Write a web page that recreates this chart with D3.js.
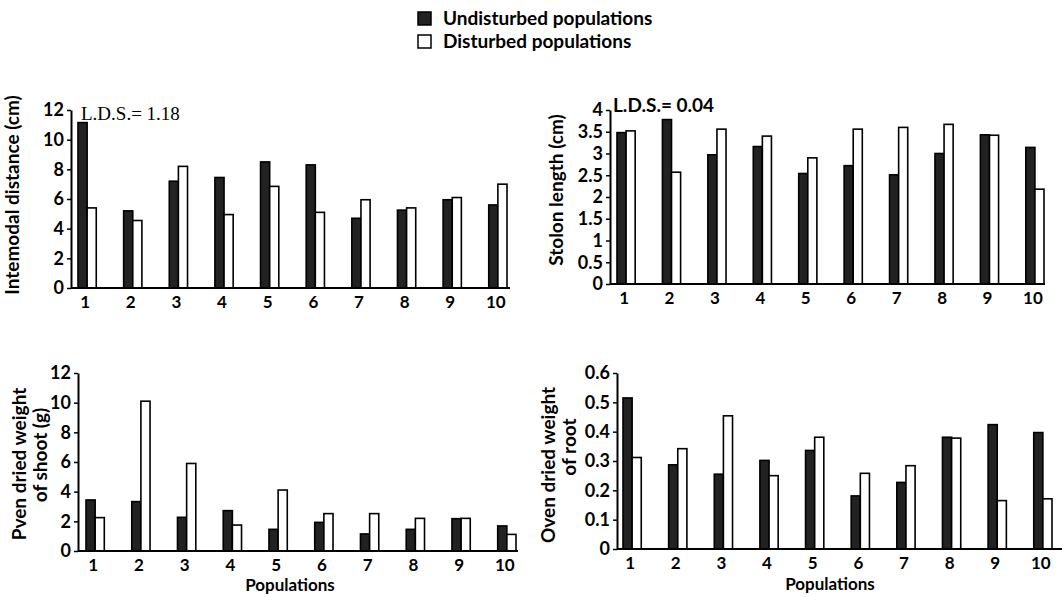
<!DOCTYPE html>
<html>
<head>
<meta charset="utf-8">
<script src="https://cdn.jsdelivr.net/npm/d3@7"></script>
<style>
  body { margin: 0; background: #fff; }
  svg text { font-family: Lato, "DejaVu Sans", sans-serif; font-weight: 700; fill: #000; }
</style>
</head>
<body>
<svg id="chart" width="1062" height="597"></svg>
<script>
// //////// DATA

const populations = ["1", "2", "3", "4", "5", "6", "7", "8", "9", "10"];
const seriesNames = ["Undisturbed populations", "Disturbed populations"];

const internodalUndisturbed = [11.15, 5.2, 7.2, 7.45, 8.5, 8.3, 4.7, 5.25, 5.95, 5.6];
const internodalDisturbed = [5.4, 4.55, 8.2, 4.95, 6.85, 5.1, 5.95, 5.4, 6.1, 7.0];

const stolonUndisturbed = [3.48, 3.78, 2.97, 3.16, 2.54, 2.72, 2.51, 3.0, 3.43, 3.14];
const stolonDisturbed = [3.52, 2.57, 3.56, 3.4, 2.9, 3.56, 3.6, 3.67, 3.42, 2.18];

const shootUndisturbed = [3.44, 3.33, 2.27, 2.72, 1.46, 1.93, 1.15, 1.46, 2.18, 1.69];
const shootDisturbed = [2.25, 10.1, 5.9, 1.75, 4.11, 2.52, 2.52, 2.2, 2.2, 1.12];

const rootUndisturbed = [0.515, 0.287, 0.255, 0.302, 0.336, 0.181, 0.227, 0.381, 0.424, 0.397];
const rootDisturbed = [0.312, 0.342, 0.454, 0.25, 0.381, 0.258, 0.284, 0.378, 0.165, 0.171];

const internodalTicks = [0, 2, 4, 6, 8, 10, 12];
const stolonTicks = [0, 0.5, 1, 1.5, 2, 2.5, 3, 3.5, 4];
const shootTicks = [0, 2, 4, 6, 8, 10, 12];
const rootTicks = [0, 0.1, 0.2, 0.3, 0.4, 0.5, 0.6];

const colors = ["#222", "#fff"];

// //////// FUNCTIONS

const svg = d3.select("#chart");

// Draw one grouped bar panel
function drawPanel(opts) {
  const g = svg.append("g");

  const y = d3.scaleLinear().domain([0, opts.yMax]).range([opts.y0, opts.y1]);
  const x = d3
    .scaleBand()
    .domain(populations)
    .range([opts.gStart, opts.gEnd])
    .paddingInner(0.6)
    .paddingOuter(0);
  const xInner = d3.scaleBand().domain([0, 1]).range([0, x.bandwidth()]);

  const rows = populations.map((p, i) => ({
    pop: p,
    vals: [opts.undisturbed[i], opts.disturbed[i]],
  }));

  // bars
  g.selectAll("g.grp")
    .data(rows)
    .join("g")
    .attr("class", "grp")
    .attr("transform", (d) => `translate(${x(d.pop)},0)`)
    .selectAll("rect")
    .data((d) => d.vals)
    .join("rect")
    .attr("x", (d, i) => xInner(i))
    .attr("width", xInner.bandwidth())
    .attr("y", (d) => y(d))
    .attr("height", (d) => opts.y0 - y(d))
    .attr("fill", (d, i) => colors[i])
    .attr("stroke", "#000")
    .attr("stroke-width", 1.6);

  // y axis
  const yAxis = g
    .append("g")
    .attr("transform", `translate(${opts.axisX},0)`)
    .call(
      d3
        .axisLeft(y)
        .tickValues(opts.ticks)
        .tickSize(4)
        .tickSizeOuter(0)
        .tickPadding(3)
        .tickFormat(d3.format("~g"))
    );
  yAxis.attr("font-family", null).attr("font-size", null);
  yAxis.select(".domain").attr("stroke", "#000").attr("stroke-width", 2);
  yAxis.selectAll(".tick line").attr("stroke", "#000").attr("stroke-width", 1.5);
  yAxis.selectAll("text").style("font-size", "18px").attr("fill", "#000");

  // x axis line
  g.append("line")
    .attr("x1", opts.axisX)
    .attr("x2", opts.axisEnd)
    .attr("y1", opts.y0)
    .attr("y2", opts.y0)
    .attr("stroke", "#000")
    .attr("stroke-width", 2);

  // x tick labels
  g.selectAll("text.xlab")
    .data(populations)
    .join("text")
    .attr("class", "xlab")
    .attr("x", (d) => x(d) + x.bandwidth() / 2 - 2)
    .attr("y", opts.y0 + 20)
    .attr("text-anchor", "middle")
    .style("font-size", "17px")
    .text((d) => d);

  // y label (one or two lines)
  opts.yLabel.forEach((line) => {
    g.append("text")
      .attr("transform", `translate(${line.x},${line.y}) rotate(-90)`)
      .attr("text-anchor", "middle")
      .style("font-size", "19px")
      .text(line.text);
  });

  if (opts.xTitle) {
    g.append("text")
      .attr("x", opts.xTitle.x)
      .attr("y", opts.xTitle.y)
      .attr("text-anchor", "middle")
      .style("font-size", "17px")
      .text(opts.xTitle.text);
  }

  if (opts.lds) {
    g.append("text")
      .attr("x", opts.lds.x)
      .attr("y", opts.lds.y)
      .style("font-size", opts.lds.size)
      .style("font-family", opts.lds.family)
      .style("font-weight", opts.lds.weight)
      .text(opts.lds.text);
  }
}

drawPanel({
  undisturbed: internodalUndisturbed,
  disturbed: internodalDisturbed,
  yMax: 12,
  ticks: internodalTicks,
  y0: 288,
  y1: 110,
  axisX: 71,
  axisEnd: 510,
  gStart: 78,
  gEnd: 507,
  yLabel: [{ text: "Intemodal distance (cm)", x: 19, y: 195 }],
  lds: { text: "L.D.S.= 1.18", x: 81, y: 120, size: "19px", family: "'Liberation Serif', serif", weight: 400 },
});

drawPanel({
  undisturbed: stolonUndisturbed,
  disturbed: stolonDisturbed,
  yMax: 4,
  ticks: stolonTicks,
  y0: 284,
  y1: 110,
  axisX: 610,
  axisEnd: 1045,
  gStart: 617,
  gEnd: 1044,
  yLabel: [{ text: "Stolon length (cm)", x: 563, y: 190 }],
  lds: { text: "L.D.S.= 0.04", x: 613, y: 112, size: "19px" },
});

drawPanel({
  undisturbed: shootUndisturbed,
  disturbed: shootDisturbed,
  yMax: 12,
  ticks: shootTicks,
  y0: 551,
  y1: 373,
  axisX: 78,
  axisEnd: 518,
  gStart: 86,
  gEnd: 516,
  yLabel: [
    { text: "Pven dried weight", x: 26, y: 464 },
    { text: "of shoot (g)", x: 47, y: 455 },
  ],
  xTitle: { text: "Populations", x: 290, y: 591 },
});

drawPanel({
  undisturbed: rootUndisturbed,
  disturbed: rootDisturbed,
  yMax: 0.6,
  ticks: rootTicks,
  y0: 549,
  y1: 373,
  axisX: 617,
  axisEnd: 1062,
  gStart: 623,
  gEnd: 1052,
  yLabel: [
    { text: "Oven dried weight", x: 555, y: 465 },
    { text: "of root", x: 576, y: 447 },
  ],
  xTitle: { text: "Populations", x: 830, y: 590 },
});

// legend
const legend = svg.append("g").attr("transform", "translate(418,12)");
seriesNames.forEach((name, i) => {
  legend
    .append("rect")
    .attr("x", 0)
    .attr("y", i * 23)
    .attr("width", 13)
    .attr("height", 13)
    .attr("fill", colors[i])
    .attr("stroke", "#000")
    .attr("stroke-width", 1.5);
  legend
    .append("text")
    .attr("x", 25)
    .attr("y", i * 23 + 13)
    .style("font-size", "19px")
    .text(name);
});
</script>
</body>
</html>
